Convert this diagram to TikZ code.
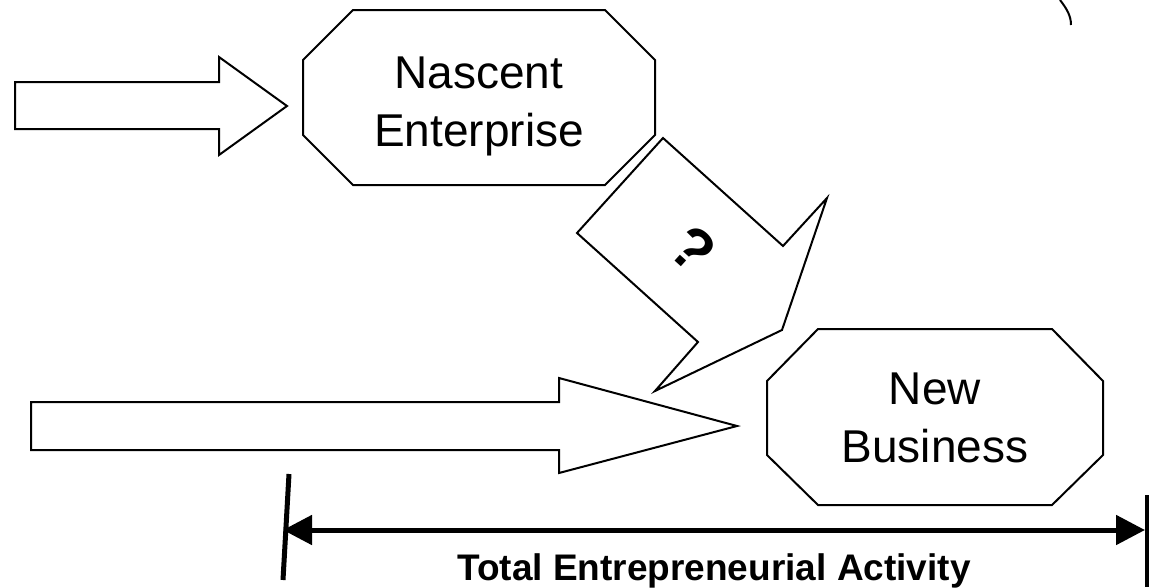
\documentclass[tikz,border=0pt]{standalone}
\usepackage{fontspec}
\setmainfont{Liberation Sans}
\usetikzlibrary{arrows.meta}
\tikzset{
	outline/.style={draw=black, line width=2pt, line join=miter, fill=white},
	boxtext/.style={align=center, inner sep=0pt, font=\fontsize{46}{58}\selectfont},
	qmark/.style={inner sep=0pt, font=\bfseries\fontsize{60}{70}\selectfont},
	spanline/.style={line width=5pt, {Triangle[length=29pt,width=29pt]}-{Triangle[length=29pt,width=29pt]}},
}
\begin{document}
\begin{tikzpicture}[x=1pt, y=-1pt]
		\useasboundingbox (0,0) rectangle (1149,587);
		
		% (1) Incoming block arrows
		\draw[outline] (15,82) -- (219,82) -- (219,57) -- (287,106) -- (219,155) -- (219,129) -- (15,129) -- cycle;
		\draw[outline] (31,402) -- (559,402) -- (559,378) -- (737,426) -- (559,473) -- (559,450) -- (31,450) -- cycle;
		
		% (2) Nascent enterprise
		\draw[outline] (353,10) -- (605,10) -- (655,60) -- (655,135) -- (605,185) -- (353,185) -- (303,135) -- (303,60) -- cycle;
		\node[boxtext] (nascent) at (479,106) {Nascent\\Enterprise};
		
		% (3) New business
		\draw[outline] (818,329) -- (1052,329) -- (1103,381) -- (1103,455) -- (1052,505) -- (818,505) -- (767,455) -- (767,381) -- cycle;
		\node[boxtext] (newbiz) at (935,418) {New\\Business};
		
		% (4) Transition arrow
		\draw[outline] (663,138) -- (783,246) -- (827,198) -- (782,330) -- (655,391) -- (698,342) -- (577,233) -- cycle;
		\node[qmark, rotate=-42] (qmark) at (693,249) {?};
		
		% (5) Total entrepreneurial activity
		\coordinate (tealeft) at (283,530);
		\coordinate (tearight) at (1145,530);
		\draw[spanline] (tealeft) -- (tearight);
		\draw[line width=5pt] (289,474) -- (283,580);
		\draw[line width=5pt] (1147,495) -- (1147,587);
		\node[anchor=base, inner sep=0pt, font=\bfseries\fontsize{37}{44}\selectfont] (tea) at (714,580) {Total Entrepreneurial Activity};
		
		% (6) Arc at top right
		\draw[line width=2pt] (1060,0) .. controls (1067,9) and (1071,16) .. (1071,25);
	\end{tikzpicture}
\end{document}
